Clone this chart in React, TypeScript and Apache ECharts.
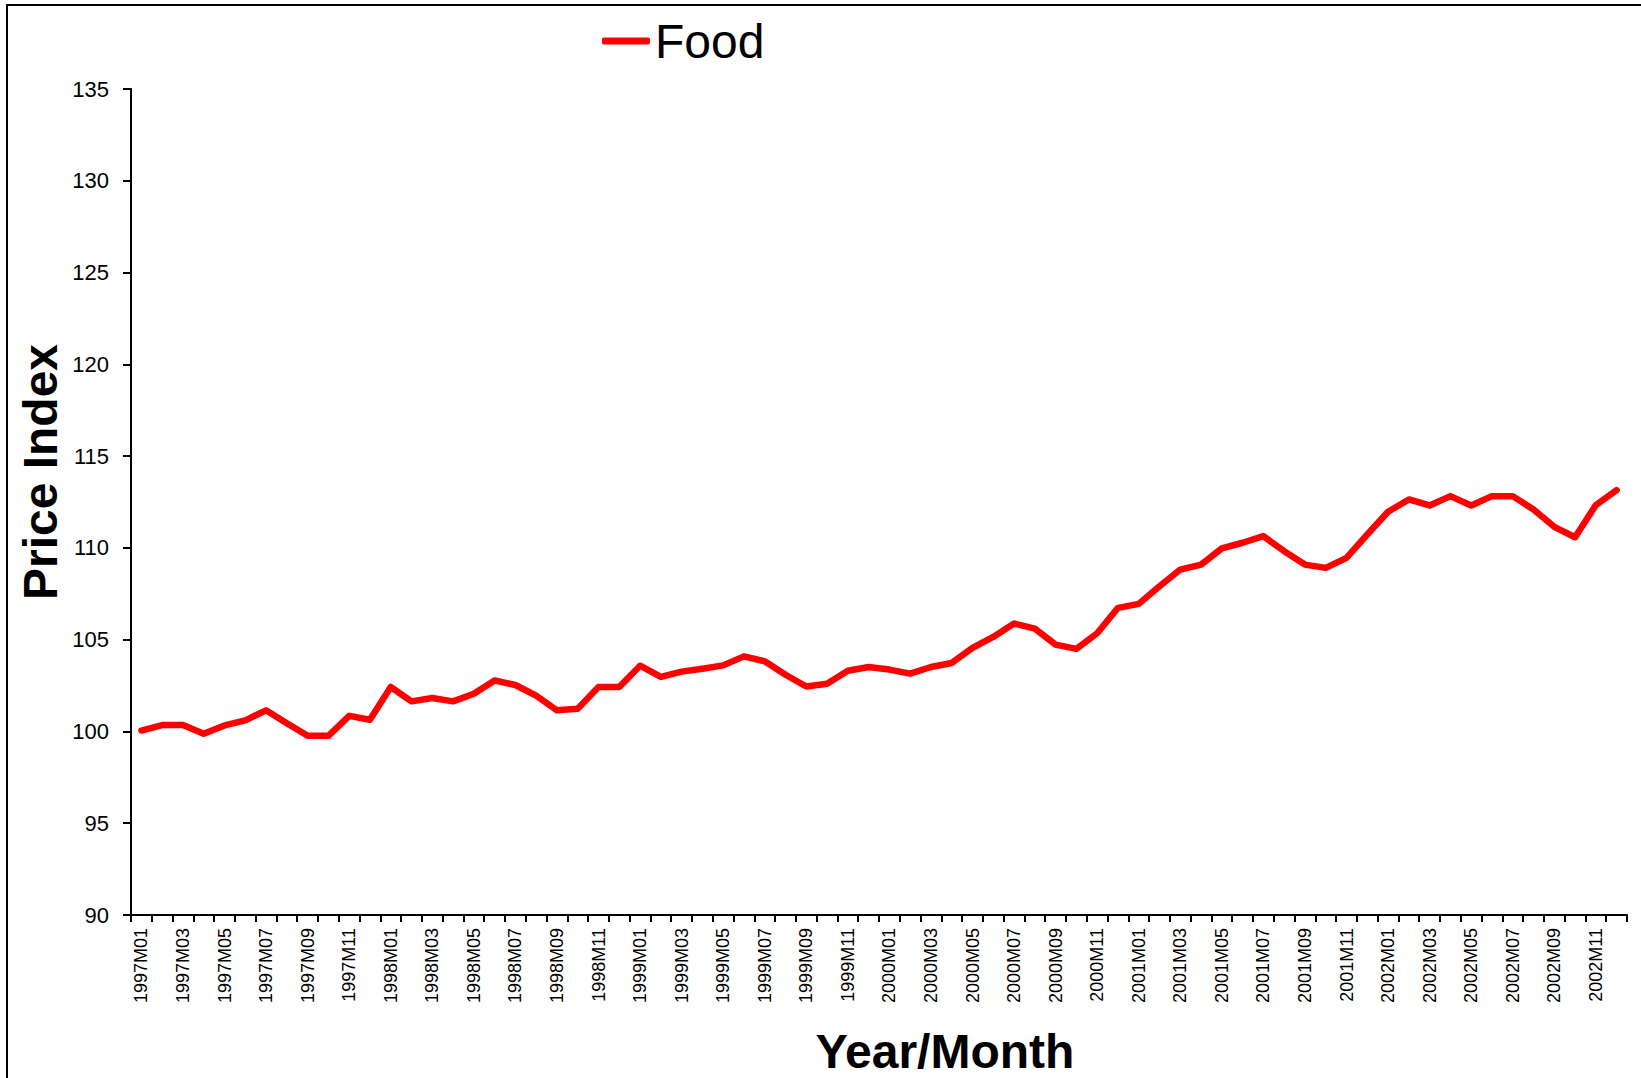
import React, { useEffect, useRef } from "react";
import * as echarts from "echarts";

const YEARS = ["1997", "1998", "1999", "2000", "2001", "2002"];
const MONTHS = ["01", "02", "03", "04", "05", "06", "07", "08", "09", "10", "11", "12"];
const categories: string[] = [];
YEARS.forEach((y) => MONTHS.forEach((m) => categories.push(`${y}M${m}`)));

const foodValues = [
  100.05, 100.35, 100.35, 99.87, 100.33, 100.6, 101.15, 100.45, 99.76, 99.76, 100.85, 100.64,
  102.42, 101.64, 101.82, 101.64, 102.05, 102.78, 102.53, 101.95, 101.15, 101.24, 102.42, 102.42,
  103.58, 102.97, 103.26, 103.42, 103.6, 104.09, 103.82, 103.09, 102.45, 102.6, 103.31, 103.51,
  103.37, 103.15, 103.51, 103.73, 104.55, 105.15, 105.88, 105.6, 104.73, 104.5, 105.35, 106.73,
  106.95, 107.91, 108.82, 109.09, 109.97, 110.28, 110.64, 109.82, 109.09, 108.91, 109.46, 110.73,
  111.97, 112.64, 112.31, 112.82, 112.31, 112.82, 112.82, 112.09, 111.15, 110.58, 112.33, 113.15,
];

const SERIES_NAME = "Food";
const Y_TITLE = "Price Index";
const X_TITLE = "Year/Month";
const Y_MIN = 90;
const Y_MAX = 135;
const Y_STEP = 5;

const FONT = "'Liberation Sans', Arial, Helvetica, sans-serif";

export default function App() {
  const ref = useRef<HTMLDivElement>(null);
  useEffect(() => {
    document.body.style.margin = "0";
    const chart = echarts.init(ref.current!, null, { renderer: "svg" });
    chart.setOption({
      animation: false,
      backgroundColor: "#ffffff",
      grid: { left: 131, top: 89, right: 14, bottom: 163, containLabel: false },
      legend: {
        data: [SERIES_NAME],
        left: 602,
        top: 17,
        padding: 0,
        icon: "roundRect",
        itemWidth: 48,
        itemHeight: 7,
        textStyle: { fontSize: 48, fontFamily: FONT, color: "#000" },
      },
      xAxis: {
        type: "category",
        data: categories,
        boundaryGap: true,
        axisLine: { lineStyle: { color: "#000", width: 2 } },
        axisTick: { show: true, interval: 0, length: 7, lineStyle: { color: "#000", width: 2 } },
        axisLabel: {
          interval: 1,
          rotate: 90,
          margin: 13,
          fontSize: 18,
          fontFamily: FONT,
          color: "#000",
        },
        splitLine: { show: false },
      },
      yAxis: {
        type: "value",
        min: Y_MIN,
        max: Y_MAX,
        interval: Y_STEP,
        axisLine: { show: true, lineStyle: { color: "#000", width: 2 } },
        axisTick: { show: true, length: 8, lineStyle: { color: "#000", width: 2 } },
        axisLabel: { margin: 22, fontSize: 22, fontFamily: FONT, color: "#000" },
        splitLine: { show: false },
      },
      series: [
        {
          name: SERIES_NAME,
          type: "line",
          data: foodValues,
          showSymbol: false,
          symbol: "none",
          lineStyle: { color: "#ff0000", width: 6.5, join: "round", cap: "round" },
          itemStyle: { color: "#ff0000" },
        },
      ],
      graphic: [
        {
          type: "rect",
          shape: { x: 7, y: 5, width: 1700, height: 1200 },
          style: { fill: "none", stroke: "#000", lineWidth: 2 },
          silent: true,
        },
        {
          type: "text",
          x: 40,
          y: 472,
          rotation: Math.PI / 2,
          style: {
            text: Y_TITLE,
            fontSize: 48,
            fontWeight: "bold",
            fontFamily: FONT,
            fill: "#000",
            align: "center",
            verticalAlign: "middle",
          },
        },
        {
          type: "text",
          x: 945,
          y: 1051,
          style: {
            text: X_TITLE,
            fontSize: 48,
            fontWeight: "bold",
            fontFamily: FONT,
            fill: "#000",
            align: "center",
            verticalAlign: "middle",
          },
        },
      ],
    });
    return () => chart.dispose();
  }, []);
  return <div ref={ref} style={{ width: 1641, height: 1078 }} />;
}
